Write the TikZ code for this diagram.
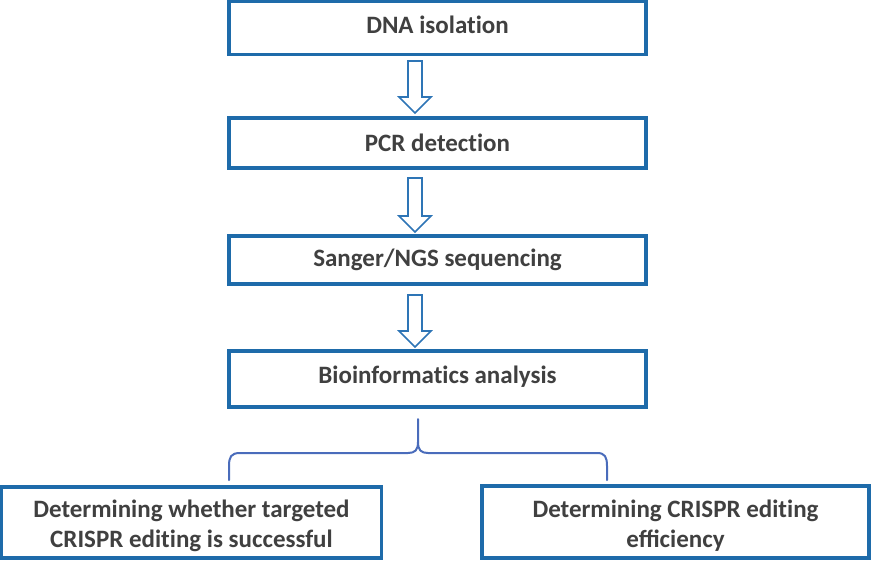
\documentclass[tikz,border=0pt]{standalone}
\usepackage{fontspec}
\setmainfont{Carlito}
\usetikzlibrary{calc}
\definecolor{boxblue}{HTML}{1E6BAA}
\definecolor{arrblue}{HTML}{2E75B6}
\definecolor{braceblue}{HTML}{4A6CBB}
\definecolor{txt}{HTML}{404040}
\newcommand{\nti}{t\kern0pt i}
\newcommand{\shiftt}[2]{\raisebox{#1}[\height][\depth]{#2}}
\newcommand{\twolines}[2]{\shiftt{-4pt}{\begin{tabular}{@{}c@{}}#1\\#2\end{tabular}}}
\tikzset{
  stepbox/.style={draw=boxblue, line width=3.5pt, fill=white, inner sep=0pt,
    font=\fontsize{25}{30}\selectfont\bfseries, text=txt, align=center},
  blockarrow/.style={draw=arrblue, line width=1.6pt, fill=white, line join=miter},
  bracestyle/.style={draw=braceblue, line width=2pt, line cap=round}
}
\newcommand{\blockarr}[3]{% x, top, tip
  \draw[blockarrow] (#1-7,#2) -- (#1+7,#2) -- (#1+7,#3-16) -- (#1+16,#3-16) -- (#1,#3) -- (#1-16,#3-16) -- (#1-7,#3-16) -- cycle;}
\begin{document}
\begin{tikzpicture}[x=1pt,y=-1pt]
\useasboundingbox (0,0) rectangle (872,563);
\node[stepbox, minimum width=417pt, minimum height=53pt] (b1) at (437.5,28) {\shiftt{3pt}{DNA isola\nti on}};
\node[stepbox, minimum width=417pt, minimum height=50pt] (b2) at (437.5,143) {PCR detec\nti on};
\node[stepbox, minimum width=417pt, minimum height=48pt] (b3) at (437.5,260) {Sanger/NGS sequencing};
\node[stepbox, minimum width=417pt, minimum height=56pt] (b4) at (437.5,379) {\shiftt{2pt}{Bioinforma\nti cs analysis}};
\node[stepbox, minimum width=380pt, minimum height=71pt] (r1) at (191.5,522.5) {\twolines{Determining whether targeted}{CRISPR edi\nti ng is successful}};
\node[stepbox, minimum width=387pt, minimum height=72pt] (r2) at (675.5,522) {\twolines{Determining CRISPR edi\nti ng}{efficiency}};
% block arrows
\blockarr{415}{61}{113}
\blockarr{415}{178}{232}
\blockarr{415}{295}{347}
% brace
\draw[bracestyle] (229,480) -- (229,466) .. controls (229,457) and (231,453) .. (240,453) -- (408,453) .. controls (415,453) and (418,450) .. (418,442) -- (418,419);
\draw[bracestyle] (418,442) .. controls (418,450) and (421,453) .. (428,453) -- (597,453) .. controls (605,453) and (607,457) .. (607,466) -- (607,480);
\end{tikzpicture}
\end{document}
